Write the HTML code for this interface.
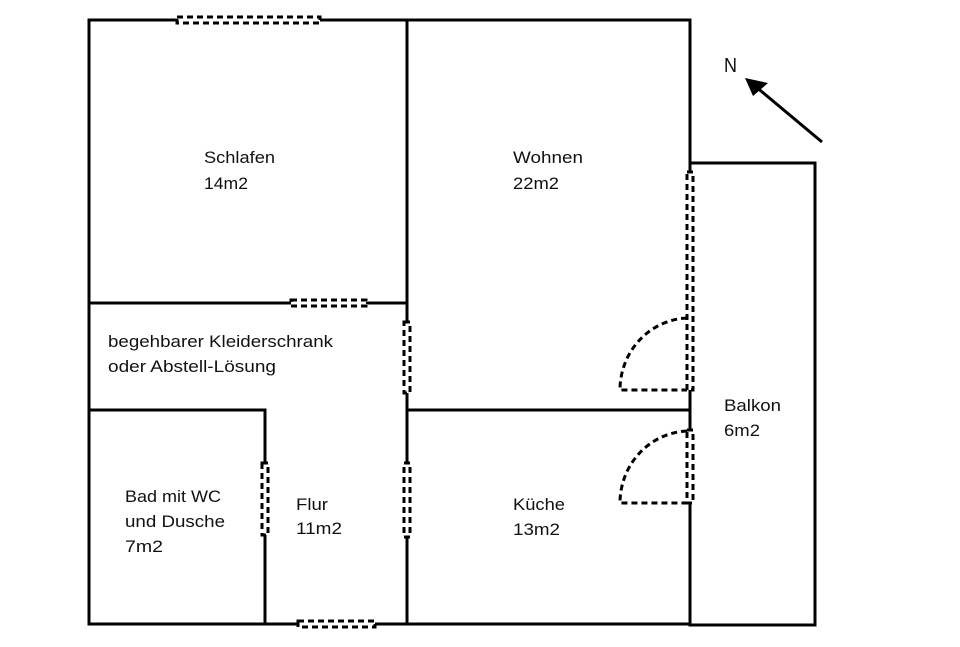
<!DOCTYPE html>
<html><head><meta charset="utf-8"><style>
html,body{margin:0;padding:0;background:#fff;width:960px;height:647px;overflow:hidden}
svg{display:block}
text{font-family:"Liberation Sans",sans-serif;font-size:17px;fill:#111}
</style></head><body>
<svg width="960" height="647" viewBox="0 0 960 647">
<g stroke="#000" stroke-width="3" fill="none" stroke-linecap="square">
<line x1="89" y1="20" x2="177" y2="20"/>
<line x1="320" y1="20" x2="690" y2="20"/>
<line x1="89" y1="20" x2="89" y2="624"/>
<line x1="89" y1="624" x2="298" y2="624"/>
<line x1="375" y1="624" x2="690" y2="624"/>
<line x1="690" y1="20" x2="690" y2="172"/>
<line x1="690" y1="390" x2="690" y2="430"/>
<line x1="690" y1="503" x2="690" y2="624"/>
<polyline points="690,163 815,163 815,625 690,625"/>
<line x1="407" y1="20" x2="407" y2="322"/>
<line x1="407" y1="393" x2="407" y2="463"/>
<line x1="407" y1="537" x2="407" y2="624"/>
<line x1="89" y1="303" x2="291" y2="303"/>
<line x1="366" y1="303" x2="407" y2="303"/>
<line x1="407" y1="410" x2="690" y2="410"/>
<polyline points="89,410 265,410 265,463"/>
<line x1="265" y1="535" x2="265" y2="624"/>
</g>
<g stroke="#000" stroke-width="3" fill="#fff" stroke-dasharray="6,4">
<rect x="177" y="17" width="143" height="6"/>
<rect x="291" y="300" width="75" height="6"/>
<rect x="298" y="621" width="77" height="6"/>
<rect x="404" y="322" width="6" height="71"/>
<rect x="404" y="463" width="6" height="74"/>
<rect x="262" y="463" width="6" height="72"/>
<rect x="687" y="172" width="6" height="218"/>
<rect x="687" y="430" width="6" height="73"/>
</g>
<g stroke="#000" stroke-width="3" fill="none" stroke-dasharray="6,4">
<path d="M687,318 A70,72 0 0 0 620,390 L687,390"/>
<path d="M687,431 A70,72 0 0 0 620,503 L687,503"/>
</g>
<line x1="822" y1="142" x2="755" y2="86" stroke="#000" stroke-width="3"/>
<polygon points="745,78 768,83 753,96" fill="#000"/>
<g lengthAdjust="spacingAndGlyphs">
<text x="724" y="72" style="font-size:20px" textLength="13" lengthAdjust="spacingAndGlyphs">N</text>
<text x="204" y="163" textLength="71" lengthAdjust="spacingAndGlyphs">Schlafen</text>
<text x="204" y="189" textLength="44" lengthAdjust="spacingAndGlyphs">14m2</text>
<text x="513" y="163" textLength="70" lengthAdjust="spacingAndGlyphs">Wohnen</text>
<text x="513" y="189" textLength="46" lengthAdjust="spacingAndGlyphs">22m2</text>
<text x="108" y="347" textLength="225" lengthAdjust="spacingAndGlyphs">begehbarer Kleiderschrank</text>
<text x="108" y="372" textLength="168" lengthAdjust="spacingAndGlyphs">oder Abstell-Lösung</text>
<text x="125" y="502" textLength="96" lengthAdjust="spacingAndGlyphs">Bad mit WC</text>
<text x="125" y="527" textLength="100" lengthAdjust="spacingAndGlyphs">und Dusche</text>
<text x="125" y="552" textLength="38" lengthAdjust="spacingAndGlyphs">7m2</text>
<text x="296" y="510" textLength="32" lengthAdjust="spacingAndGlyphs">Flur</text>
<text x="296" y="534" textLength="46" lengthAdjust="spacingAndGlyphs">11m2</text>
<text x="513" y="510" textLength="52" lengthAdjust="spacingAndGlyphs">Küche</text>
<text x="513" y="535" textLength="47" lengthAdjust="spacingAndGlyphs">13m2</text>
<text x="724" y="411" textLength="57" lengthAdjust="spacingAndGlyphs">Balkon</text>
<text x="724" y="436" textLength="36" lengthAdjust="spacingAndGlyphs">6m2</text>
</g>
</svg>
</body></html>
